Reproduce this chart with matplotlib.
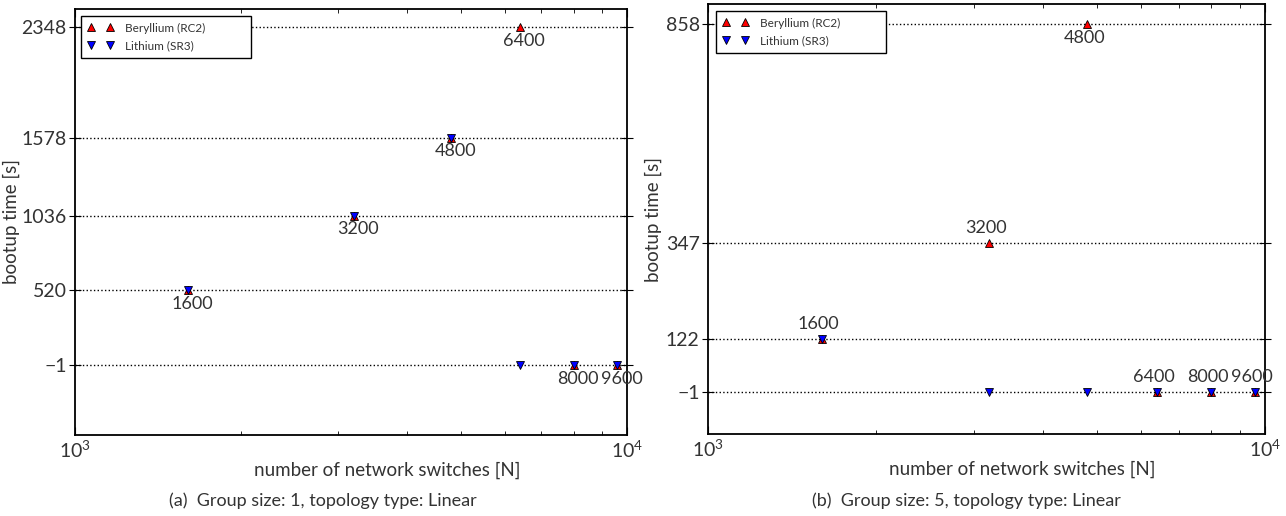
import matplotlib
matplotlib.use("Agg")
import matplotlib.pyplot as plt
from matplotlib.ticker import LogLocator, NullFormatter, FixedLocator

plt.rcParams['font.family'] = ['Lato', 'DejaVu Sans']
plt.rcParams['font.weight'] = 'normal'
plt.rcParams['mathtext.fontset'] = 'custom'
plt.rcParams['mathtext.rm'] = 'Lato'

# ---------------- data ----------------
switches = [1600, 3200, 4800, 6400, 8000, 9600]

# (a) Group size 1
be_a = [520, 1036, 1578, 2348, -1, -1]
li_a = [520, 1036, 1578, -1, -1, -1]
yticks_a = [-1, 520, 1036, 1578, 2348]
labels_a = ["1600", "3200", "4800", "6400", "8000", "9600"]
label_y_a = [520, 1036, 1578, 2348, -1, -1]
label_pos_a = ["below", "below", "below", "below", "below", "below"]

# (b) Group size 5
be_b = [122, 347, 858, -1, -1, -1]
li_b = [122, -1, -1, -1, -1, -1]
yticks_b = [-1, 122, 347, 858]
labels_b = ["1600", "3200", "4800", "6400", "8000", "9600"]
label_y_b = [122, 347, 858, -1, -1, -1]
label_pos_b = ["above", "above", "below", "above", "above", "above"]

captions = ["(a)  Group size: 1, topology type: Linear",
            "(b)  Group size: 5, topology type: Linear"]
series_names = ["Beryllium (RC2)", "Lithium (SR3)"]

W, H = 1286, 516
fig = plt.figure(figsize=(W / 100, H / 100), dpi=100)

ax_a = fig.add_axes([75 / W, (H - 435) / H, 552 / W, 426 / H])
ax_b = fig.add_axes([708 / W, (H - 434) / H, 557 / W, 430 / H])

# legend boxes in pixel coords (left, top, right, bottom)
leg_boxes = [(81, 16, 251, 63), (716, 11, 886, 58)]

panels = [
    (ax_a, be_a, li_a, yticks_a, labels_a, label_y_a, label_pos_a, (-487, 2473), 4, -55 / 552, leg_boxes[0], 426),
    (ax_b, be_b, li_b, yticks_b, labels_b, label_y_b, label_pos_b, (-99, 905), -3, -46 / 557, leg_boxes[1], 430),
]

text_col = '#333333'
for ax, be, li, yt, labs, ly, lpos, ylim, dx, ylab_x, lb, axh in panels:
    ax.plot(switches, be, linestyle='none', marker='^', color='#ff0000',
            markeredgecolor='black', markeredgewidth=0.6, markersize=6,
            label=series_names[0], zorder=3)
    ax.plot(switches, li, linestyle='none', marker='v', color='#0000ff',
            markeredgecolor='black', markeredgewidth=0.6, markersize=6,
            label=series_names[1], zorder=4)
    ax.set_xscale('log')
    ax.set_xlim(1000, 10000)
    ax.set_ylim(*ylim)
    ax.yaxis.set_major_locator(FixedLocator(yt))
    ax.set_yticklabels([("\u2212" + str(-v)) if v < 0 else str(v) for v in yt])
    ax.xaxis.set_major_locator(LogLocator(base=10))
    ax.xaxis.set_minor_locator(LogLocator(base=10, subs=range(2, 10)))
    ax.xaxis.set_minor_formatter(NullFormatter())
    ax.grid(axis='y', which='major', linestyle=':', color='black', linewidth=1.0)
    ax.set_axisbelow(True)
    ax.tick_params(axis='x', which='major', direction='in', top=True, length=6,
                   labelsize=14, labelcolor=text_col, pad=3)
    ax.tick_params(axis='x', which='minor', direction='in', top=True, length=3)
    ax.tick_params(axis='y', which='major', direction='inout', right=True, length=8,
                   labelsize=14, labelcolor=text_col, pad=2)
    for s in ax.spines.values():
        s.set_linewidth(1.3)
        s.set_color('black')
    for t, xv, yv, p in zip(labs, switches, ly, lpos):
        if p == "below":
            ax.annotate(t, (xv, yv), xytext=(dx * 0.75, -4), textcoords='offset points',
                        ha='center', va='top', fontsize=13, color=text_col)
        else:
            ax.annotate(t, (xv, yv), xytext=(dx * 0.75, 5), textcoords='offset points',
                        ha='center', va='bottom', fontsize=13, color=text_col)
    ax.set_xlabel("number of network switches [N]", fontsize=13.5, color=text_col)
    ax.xaxis.set_label_coords(0.565, -27 / axh)
    ax.set_ylabel("bootup time [s]", fontsize=13.5, color=text_col)
    ax.yaxis.set_label_coords(ylab_x, 0.5)
    # legend placed in figure pixel box, expanded horizontally
    l, t_, r, b = lb
    bb = (l / W, 1 - t_ / H, (r - l) / W, 0)
    leg = ax.legend(loc='upper left', bbox_to_anchor=bb, bbox_transform=fig.transFigure,
                    mode='expand', numpoints=2, fontsize=8.5, fancybox=False,
                    framealpha=1, edgecolor='black', borderaxespad=0.0,
                    handlelength=2.2, handletextpad=1.0, labelspacing=0.55, borderpad=0.55)
    leg.get_frame().set_linewidth(1.0)
    for txt in leg.get_texts():
        txt.set_color(text_col)

fig.text(323 / W, 1 - 501 / H, captions[0], ha='center', va='center', fontsize=13, color=text_col)
fig.text(966 / W, 1 - 501 / H, captions[1], ha='center', va='center', fontsize=13, color=text_col)

fig.savefig("out.png", dpi=100)
